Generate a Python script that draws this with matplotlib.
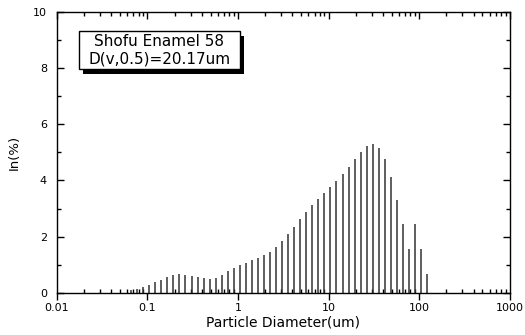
import matplotlib
matplotlib.use("Agg")
import matplotlib.pyplot as plt
from matplotlib.ticker import LogLocator, NullFormatter, FixedLocator, FixedFormatter, MultipleLocator
from matplotlib.patches import Rectangle
import matplotlib.patheffects as pe

# Particle diameters (um) of the size channels
diameters = [0.0663, 0.0772, 0.0901, 0.1050, 0.1224, 0.1427, 0.1664, 0.1940,
             0.2262, 0.2638, 0.3075, 0.3585, 0.4180, 0.4874, 0.5682, 0.6625,
             0.7724, 0.9006, 1.050, 1.224, 1.427, 1.664, 1.940, 2.262,
             2.638, 3.075, 3.585, 4.180, 4.874, 5.682, 6.625, 7.724,
             9.006, 10.50, 12.24, 14.27, 16.64, 19.40, 22.62, 26.38,
             30.75, 35.86, 41.81, 48.74, 56.83, 66.26, 77.25, 90.07,
             105.0, 122.4]
# Frequency In(%)
frequency = [0.11, 0.14, 0.20, 0.27, 0.37, 0.46, 0.56, 0.62,
             0.67, 0.63, 0.59, 0.55, 0.51, 0.49, 0.52, 0.63,
             0.77, 0.88, 0.99, 1.07, 1.16, 1.25, 1.34, 1.46,
             1.63, 1.84, 2.09, 2.36, 2.64, 2.89, 3.12, 3.35,
             3.57, 3.77, 3.97, 4.24, 4.48, 4.75, 5.00, 5.24,
             5.30, 5.17, 4.76, 4.13, 3.31, 2.44, 1.56, 2.44,
             1.56, 0.67]

x_ticks = [0.01, 0.1, 1, 10, 100, 1000]
x_tick_labels = ["0.01", "0.1", "1", "10", "100", "1000"]
y_ticks = [0, 2, 4, 6, 8, 10]
y_tick_labels = ["0", "2", "4", "6", "8", "10"]

title_lines = ["Shofu Enamel 58", "D(v,0.5)=20.17um"]
x_label = "Particle Diameter(um)"
y_label = "In(%)"

plt.rcParams['font.family'] = ['DejaVu Sans']

fig = plt.figure(figsize=(5.25, 3.35), dpi=100)
ax = fig.add_axes([0.108, 0.126, 0.863, 0.838])

ax.vlines(diameters, 0, frequency, colors='#333333', linewidth=1.1)

ax.set_xscale('log')
ax.set_xlim(0.01, 1000)
ax.set_ylim(0, 10)

ax.xaxis.set_major_locator(FixedLocator(x_ticks))
ax.xaxis.set_major_formatter(FixedFormatter(x_tick_labels))
ax.xaxis.set_minor_locator(LogLocator(base=10, subs=range(2, 10), numticks=20))
ax.xaxis.set_minor_formatter(NullFormatter())
ax.yaxis.set_major_locator(FixedLocator(y_ticks))
ax.yaxis.set_major_formatter(FixedFormatter(y_tick_labels))
ax.yaxis.set_minor_locator(MultipleLocator(1))

for s in ax.spines.values():
    s.set_linewidth(1.0)
    s.set_color('black')

ax.tick_params(axis='x', which='major', direction='out', length=5, width=1,
               top=False, labelsize=8, pad=2)
ax.tick_params(axis='x', which='minor', direction='in', length=3, width=1, top=True)
ax.tick_params(axis='y', which='major', direction='in', length=5, width=1,
               right=True, labelsize=8, pad=7)
ax.tick_params(axis='y', which='minor', direction='in', length=3, width=1, right=True)
# top major ticks inward
sec = ax.secondary_xaxis('top')
sec.set_xticks(x_ticks)
sec.set_xticklabels([])
sec.tick_params(axis='x', which='major', direction='in', length=5, width=1)
sec.tick_params(axis='x', which='minor', length=0)
sec.spines['top'].set_visible(False)

ax.set_xlabel(x_label, fontsize=10, labelpad=2)
ax.set_ylabel(y_label, fontsize=9.5, labelpad=9)

# annotation box with shadow
box = Rectangle((0.049, 0.796), 0.355, 0.136, transform=ax.transAxes,
                facecolor='white', edgecolor='black', linewidth=1, zorder=5,
                path_effects=[pe.SimplePatchShadow(offset=(2.8, -3.2), shadow_rgbFace='black', alpha=1),
                              pe.Normal()])
ax.add_patch(box)
ax.text(0.2265, 0.864, "\n".join(title_lines), transform=ax.transAxes,
        ha='center', va='center', fontsize=11, linespacing=1.2, zorder=6)

fig.savefig("out.png", dpi=100)
